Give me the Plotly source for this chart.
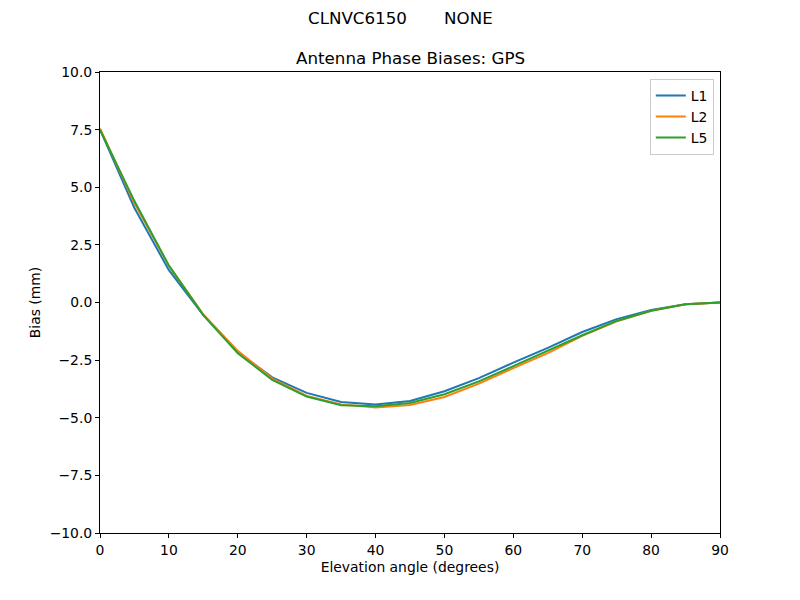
import plotly.graph_objects as go

elev = [0, 5, 10, 15, 20, 25, 30, 35, 40, 45, 50, 55, 60, 65, 70, 75, 80, 85, 90]
l1 = [7.5, 4.1, 1.4, -0.55, -2.15, -3.25, -3.92, -4.32, -4.43, -4.27, -3.85, -3.28, -2.61, -1.97, -1.28, -0.72, -0.32, -0.08, 0.0]
l2 = [7.55, 4.3, 1.6, -0.52, -2.1, -3.3, -4.05, -4.42, -4.55, -4.45, -4.1, -3.52, -2.85, -2.2, -1.45, -0.82, -0.36, -0.08, 0.0]
l5 = [7.5, 4.4, 1.6, -0.55, -2.2, -3.36, -4.08, -4.46, -4.5, -4.36, -3.98, -3.42, -2.76, -2.1, -1.42, -0.8, -0.36, -0.08, 0.0]
series_names = ["L1", "L2", "L5"]
colors = ["#1f77b4", "#ff7f0e", "#2ca02c"]

xticks = [0, 10, 20, 30, 40, 50, 60, 70, 80, 90]
yticks = [-10, -7.5, -5, -2.5, 0, 2.5, 5, 7.5, 10]
ytext = ["\u221210.0", "\u22127.5", "\u22125.0", "\u22122.5", "0.0", "2.5", "5.0", "7.5", "10.0"]

fig = go.Figure()
for name, ys, c in zip(series_names, [l1, l2, l5], colors):
    fig.add_trace(go.Scatter(x=elev, y=ys, mode="lines", name=name,
                             line=dict(color=c, width=2)))

axis_common = dict(showline=True, linecolor="black", linewidth=1, mirror=True,
                   ticks="outside", ticklen=4, tickcolor="black", showgrid=False,
                   zeroline=False, tickfont=dict(size=13.9, color="black"))

fig.update_layout(
    width=800, height=600,
    paper_bgcolor="white", plot_bgcolor="white",
    font=dict(family="DejaVu Sans", size=13.9, color="black"),
    margin=dict(l=92, r=88, t=64, b=75),
    xaxis=dict(range=[0, 90], tickvals=xticks,
               title=dict(text="Elevation angle (degrees)", standoff=5, font=dict(size=13.9)),
               **axis_common),
    yaxis=dict(range=[-10, 10], tickvals=yticks, ticktext=ytext,
               title=dict(text="Bias (mm)", standoff=5, font=dict(size=13.9)),
               **axis_common),
    legend=dict(x=0.99, y=0.985, xanchor="right", yanchor="top",
                bordercolor="#cccccc", borderwidth=1, bgcolor="white",
                font=dict(size=13.9), itemwidth=30, tracegroupgap=2),
    showlegend=True,
    annotations=[
        dict(text="CLNVC6150" + "\u00a0" * 7 + "NONE", xref="paper", yref="paper",
             x=300 / 620, y=1 + 54 / 461, xanchor="center", yanchor="middle",
             showarrow=False, font=dict(size=16.7)),
        dict(text="Antenna Phase Biases: GPS", xref="paper", yref="paper",
             x=0.5, y=1 + 14 / 461, xanchor="center", yanchor="middle",
             showarrow=False, font=dict(size=16.7)),
    ],
)

fig.write_html("out.html")
